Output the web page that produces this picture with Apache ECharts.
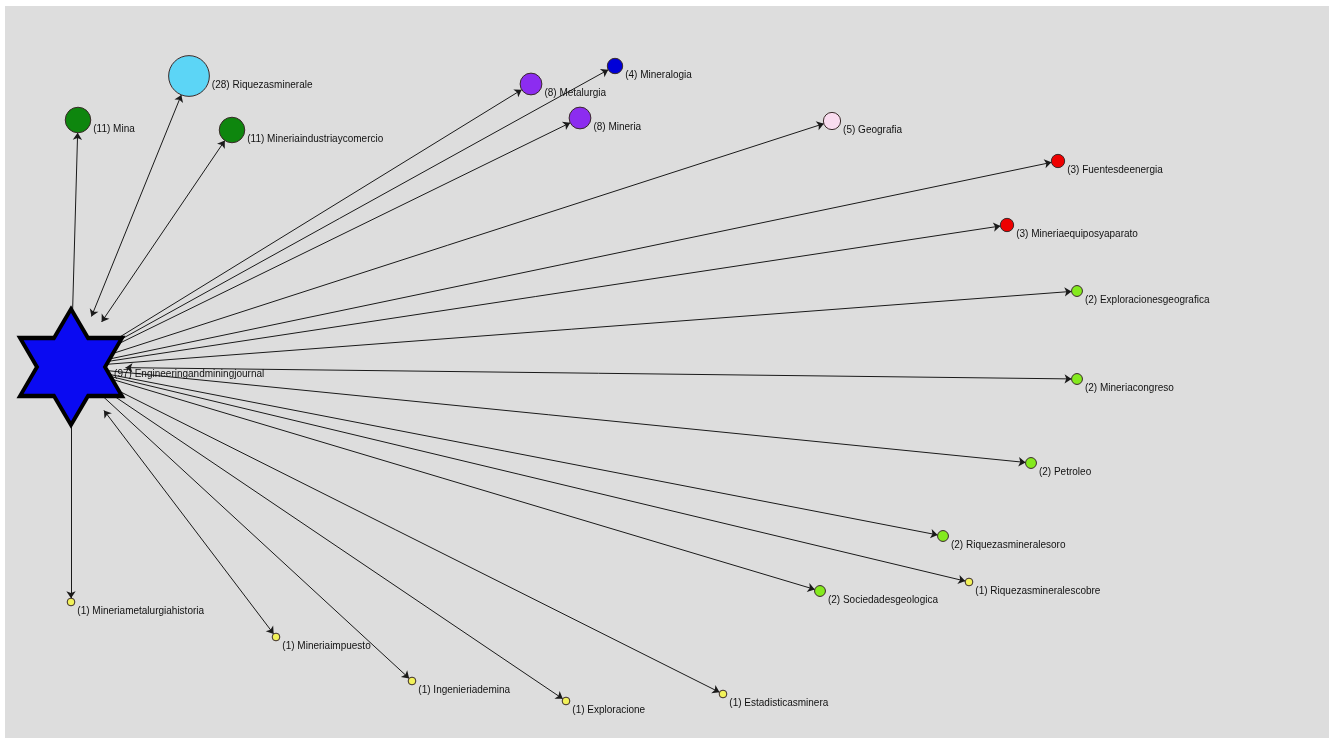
<!DOCTYPE html>
<html>
<head>
<meta charset="utf-8">
<script src="https://cdn.jsdelivr.net/npm/echarts@6/dist/echarts.min.js"></script>
<style>
html,body{margin:0;padding:0;background:#ffffff;}
#chart{width:1329px;height:738px;}
</style>
</head>
<body>
<div id="chart"></div>
<script>
// ---- data ----
var hubName = 'Engineeringandminingjournal';
var hubCount = 97;
var hubPos = [71, 367];

var nodeNames = [
  'Riquezasminerale', 'Mina', 'Mineriaindustriaycomercio', 'Metalurgia', 'Mineralogia',
  'Mineria', 'Geografia', 'Fuentesdeenergia', 'Mineriaequiposyaparato',
  'Exploracionesgeografica', 'Mineriacongreso', 'Petroleo', 'Riquezasmineralesoro',
  'Riquezasmineralescobre', 'Sociedadesgeologica', 'Estadisticasminera', 'Exploracione',
  'Ingenieriademina', 'Mineriaimpuesto', 'Mineriametalurgiahistoria'
];
var nodeCounts = [28, 11, 11, 8, 4, 8, 5, 3, 3, 2, 2, 2, 2, 1, 2, 1, 1, 1, 1, 1];
var nodeX = [189, 78, 232, 531, 615, 580, 832, 1058, 1007, 1077, 1077, 1031, 943, 969, 820, 723, 566, 412, 276, 71];
var nodeY = [76, 120, 130, 84, 66, 118, 121, 161, 225, 291, 379, 463, 536, 582, 591, 694, 701, 681, 637, 602];
// links whose arrows point both ways (hub <-> node)
var bothWays = ['Riquezasminerale', 'Mineriaindustriaycomercio', 'Mineriaimpuesto', 'Mineriacongreso'];

// ---- styles ----
var colorByName = {
  'Riquezasminerale': '#5cd5f6',
  'Mina': '#0e860e',
  'Mineriaindustriaycomercio': '#0e860e',
  'Metalurgia': '#8c2cf0',
  'Mineria': '#8c2cf0',
  'Mineralogia': '#0000d8',
  'Geografia': '#f9dcef',
  'Fuentesdeenergia': '#ee0000',
  'Mineriaequiposyaparato': '#ee0000'
};
function colorFor(name, count) {
  if (colorByName[name]) return colorByName[name];
  if (count === 2) return '#84ea1e';
  return '#f2f25a';
}
var starPath = 'path://M0,-100 L28.87,-50 L86.6,-50 L57.74,0 L86.6,50 L28.87,50 L0,100 L-28.87,50 L-86.6,50 L-57.74,0 L-86.6,-50 L-28.87,-50 Z';
var FONT = "'Liberation Sans', Arial, sans-serif";

var nodes = [{
  name: hubName,
  value: hubPos,
  count: hubCount,
  symbol: starPath,
  symbolSize: [102, 116],
  itemStyle: { color: '#0a0af2', borderColor: '#000000', borderWidth: 4 },
  label: { position: [96, 67], align: 'left', verticalAlign: 'middle', offset: [0, 0] },
  z: 10
}];
nodeNames.forEach(function (n, i) {
  nodes.push({
    name: n,
    value: [nodeX[i], nodeY[i]],
    count: nodeCounts[i],
    symbol: 'circle',
    symbolSize: 7.7 * Math.sqrt(nodeCounts[i]),
    itemStyle: { color: colorFor(n, nodeCounts[i]), borderColor: '#3a2a2a', borderWidth: 1 }
  });
});
var links = nodeNames.map(function (n) {
  var l = { source: hubName, target: n };
  if (bothWays.indexOf(n) >= 0) l.symbol = ['arrow', 'arrow'];
  return l;
});

var chart = echarts.init(document.getElementById('chart'), null, { renderer: 'canvas' });
chart.setOption({
  animation: false,
  backgroundColor: '#ffffff',
  grid: { left: 5, top: 6, right: 0, bottom: 0, show: true, backgroundColor: '#dddddd', borderWidth: 0 },
  xAxis: { type: 'value', min: 5, max: 1329, show: false },
  yAxis: { type: 'value', min: 6, max: 738, inverse: true, show: false },
  series: [{
    type: 'graph',
    coordinateSystem: 'cartesian2d',
    layout: 'none',
    data: nodes,
    links: links,
    edgeSymbol: ['none', 'arrow'],
    edgeSymbolSize: 7,
    lineStyle: { color: '#1a1a1a', width: 1, opacity: 1, curveness: 0 },
    label: {
      show: true,
      position: 'right',
      distance: 2,
      offset: [0, 9],
      color: '#111111',
      fontSize: 10,
      fontFamily: FONT,
      formatter: function (p) { return '(' + p.data.count + ') ' + p.name; }
    },
    emphasis: { disabled: true }
  }]
});
</script>
</body>
</html>
